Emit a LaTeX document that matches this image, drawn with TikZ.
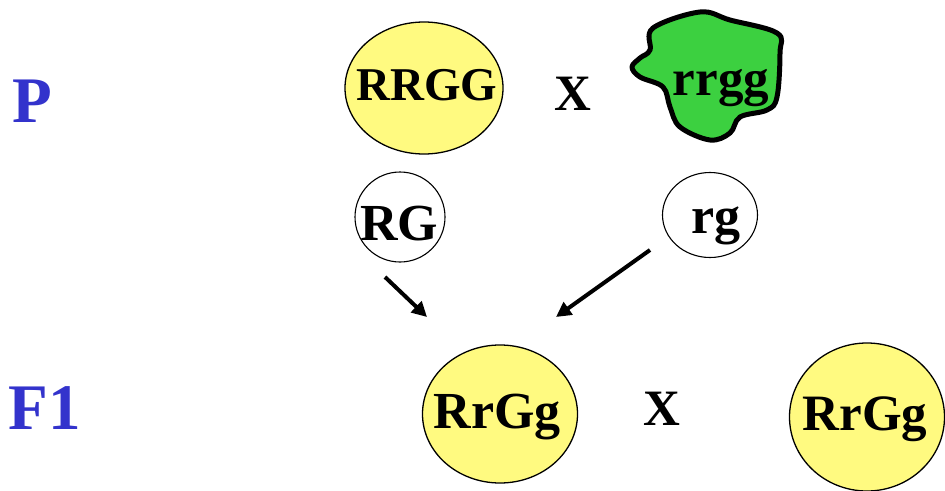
\documentclass[tikz,border=0pt]{standalone}
\usepackage{fontspec}
\setmainfont{Liberation Serif}
\usetikzlibrary{shapes.geometric,arrows.meta}
\definecolor{pale}{RGB}{255,250,128}
\definecolor{leaf}{RGB}{60,208,64}
\definecolor{gen}{RGB}{51,51,204}
\tikzset{
  big/.style={font=\bfseries\fontsize{#1}{#1}\selectfont},
  cell/.style={ellipse,draw=black,line width=1.3pt,fill=pale,inner sep=0pt},
  gamete/.style={ellipse,draw=black,line width=1.1pt,fill=white,inner sep=0pt},
  txt/.style={big=#1,anchor=base,inner sep=0pt},
  genlabel/.style={big=65,text=gen,anchor=base},
  cross/.style={big=51,anchor=base},
  flow/.style={line width=4pt,-{Triangle[length=15pt,width=15pt]}}
}
\begin{document}
\begin{tikzpicture}[x=1pt,y=-1pt]
\useasboundingbox (0,0) rectangle (945,490);

% generation labels
\node[genlabel] (P) at (32,122) {P};
\node[genlabel] (F1) at (45,429) {F1};

% parents
\node[cell,minimum width=158pt,minimum height=132pt] (RRGG) at (424,88) {};
\node[txt=47] (tRRGG) at (427,100) {RRGG};
\node[cross] (x1) at (573,110) {X};
\draw[fill=leaf,line width=5pt,line join=round]
  plot[smooth cycle,tension=0.6] coordinates {
    (653,28) (700,12) (730,20) (777,33) (780,53) (777,97) (767,110)
    (740,117) (730,133) (710,140) (680,127) (670,107) (663,87)
    (640,77) (632,67) (640,58) (650,50)};
\node[txt=51] (rrgg) at (721,95) {rrgg};

% gametes
\node[gamete,minimum width=90pt,minimum height=90pt] (RG) at (400,217) {};
\node[txt=52] (tRG) at (399,240) {RG};
\node[gamete,minimum width=95pt,minimum height=85pt] (rg) at (710,215) {};
\node[txt=52] (trg) at (716,233) {rg};

% F1 offspring
\node[cell,minimum width=155pt,minimum height=138pt] (off1) at (500,414) {};
\node[txt=52] (toff1) at (497,428) {RrGg};
\node[cross] (x2) at (662,425) {X};
\node[cell,minimum width=155pt,minimum height=148pt] (off2) at (867,417) {};
\node[txt=51] (toff2) at (865,430) {RrGg};

% fertilisation arrows
\coordinate (a1s) at (385,277);
\coordinate (a1e) at (427,317);
\coordinate (a2s) at (650,250);
\coordinate (a2e) at (556,317);
\draw[flow] (a1s) -- (a1e);
\draw[flow] (a2s) -- (a2e);
\end{tikzpicture}
\end{document}
